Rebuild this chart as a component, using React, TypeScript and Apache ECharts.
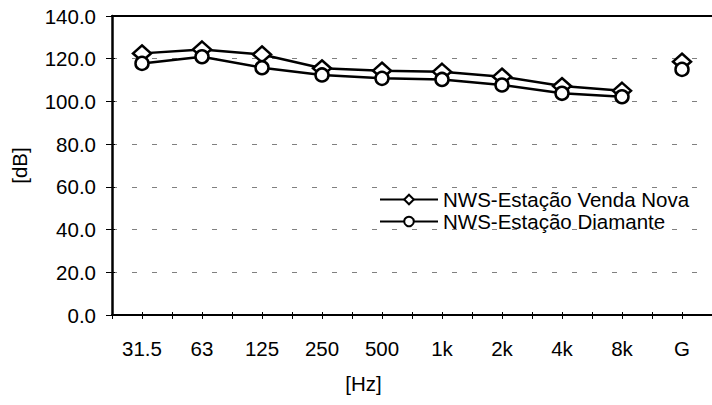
import React, { useEffect, useRef } from "react";
import * as echarts from "echarts";

const categories = ["31.5", "63", "125", "250", "500", "1k", "2k", "4k", "8k", "G"];
const vendaNova = [122.5, 124.3, 122.0, 115.5, 114.4, 113.9, 111.6, 107.2, 105.0];
const vendaNovaG = 118.6;
const diamante = [117.8, 120.9, 115.8, 112.4, 110.8, 110.3, 107.7, 103.8, 102.2];
const diamanteG = 115.0;
const yTicks = { min: 0, max: 140, interval: 20 };
const seriesNames = ["NWS-Estação Venda Nova", "NWS-Estação Diamante"];

const FONT = "Liberation Sans";
const FS = 20.5;

export default function App() {
  const ref = useRef<HTMLDivElement>(null);
  useEffect(() => {
    document.body.style.margin = "0";
    const chart = echarts.init(ref.current!, null, { renderer: "svg" });
    const tickSlots = categories.flatMap((c) => [c + "a", c + "b"]);
    const lineStyle = { color: "#000", width: 2.5 };
    const markStyle = { color: "#fff", borderColor: "#000", borderWidth: 2.5 };
    chart.setOption({
      animation: false,
      backgroundColor: "#fff",
      textStyle: { fontFamily: FONT },
      grid: { left: 112, right: -7, top: 16, bottom: 90, containLabel: false },
      legend: {
        orient: "vertical",
        left: 374,
        top: 184,
        itemWidth: 58,
        itemHeight: 12,
        itemGap: 1,
        data: seriesNames,
        textStyle: { fontSize: FS, color: "#000", fontFamily: FONT },
      },
      xAxis: [
        {
          type: "category",
          data: categories,
          position: "bottom",
          boundaryGap: true,
          axisLine: { show: true, lineStyle: { color: "#000", width: 2 } },
          axisTick: { show: false },
          axisLabel: { fontSize: FS, color: "#000", margin: 23, interval: 0, fontFamily: FONT },
          name: "[Hz]",
          nameLocation: "middle",
          nameGap: 58,
          nameTextStyle: { fontSize: FS, color: "#000", padding: [0, 97, 0, 0], fontFamily: FONT },
          splitLine: { show: false },
        },
        {
          type: "category",
          data: tickSlots,
          position: "bottom",
          boundaryGap: true,
          axisLine: { show: false },
          axisTick: { show: true, interval: 0, length: 4, inside: false, lineStyle: { color: "#000", width: 1 } },
          axisLabel: { show: false },
          splitLine: { show: false },
        },
        {
          type: "category",
          data: tickSlots,
          position: "bottom",
          boundaryGap: true,
          axisLine: { show: false },
          axisTick: { show: true, interval: 0, length: 3, inside: true, lineStyle: { color: "#000", width: 1 } },
          axisLabel: { show: false },
          splitLine: { show: false },
        },
        {
          type: "category",
          data: categories,
          position: "top",
          axisLine: { show: true, lineStyle: { color: "#000", width: 2 } },
          axisTick: { show: false },
          axisLabel: { show: false },
          splitLine: { show: false },
        },
      ],
      yAxis: [
        {
          type: "value",
          min: yTicks.min,
          max: yTicks.max,
          interval: yTicks.interval,
          position: "left",
          axisLine: { show: true, lineStyle: { color: "#000", width: 2.5 } },
          axisTick: { show: true, length: 6, inside: false, lineStyle: { color: "#000", width: 1 } },
          axisLabel: {
            fontSize: FS,
            color: "#000",
            margin: 16,
            fontFamily: FONT,
            formatter: (v: number) => v.toFixed(1),
          },
          name: "[dB]",
          nameLocation: "middle",
          nameRotate: 90,
          nameGap: 82,
          nameTextStyle: { fontSize: FS, color: "#000", fontFamily: FONT },
          splitLine: {
            show: true,
            lineStyle: { color: "#808080", width: 1, type: [5, 15] },
          },
        },
        {
          type: "value",
          min: yTicks.min,
          max: yTicks.max,
          interval: yTicks.interval,
          position: "left",
          axisLine: { show: false },
          axisTick: { show: true, length: 3, inside: true, lineStyle: { color: "#000", width: 1 } },
          axisLabel: { show: false },
          splitLine: { show: false },
        },
      ],
      series: [
        {
          name: seriesNames[0],
          type: "line",
          data: vendaNova,
          symbol: "diamond",
          symbolSize: [18, 16],
          showAllSymbol: true,
          lineStyle,
          itemStyle: markStyle,
          z: 3,
          clip: false,
        },
        {
          name: seriesNames[1],
          type: "line",
          data: diamante,
          symbol: "circle",
          symbolSize: 13,
          showAllSymbol: true,
          lineStyle,
          itemStyle: markStyle,
          z: 4,
          clip: false,
        },
        {
          name: seriesNames[0],
          type: "line",
          data: [[categories[9], vendaNovaG]],
          symbol: "diamond",
          symbolSize: [18, 16],
          lineStyle,
          itemStyle: markStyle,
          z: 3,
          clip: false,
        },
        {
          name: seriesNames[1],
          type: "line",
          data: [[categories[9], diamanteG]],
          symbol: "circle",
          symbolSize: 13,
          lineStyle,
          itemStyle: markStyle,
          z: 4,
          clip: false,
        },
      ],
    });
    return () => chart.dispose();
  }, []);
  return (
    <div
      ref={ref}
      style={{ position: "fixed", left: 0, top: 0, width: 712, height: 405 }}
    />
  );
}
